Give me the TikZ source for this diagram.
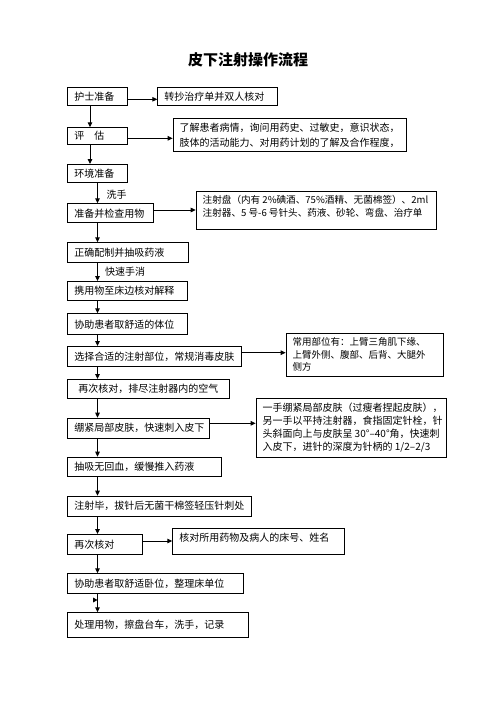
\documentclass[tikz,border=0pt]{standalone}
\usepackage{fontspec}
\setmainfont{Noto Sans CJK SC}
\usetikzlibrary{arrows.meta}
\newcommand\fbx[7]{\node[bx, minimum width={#4-#2}, minimum height={#5-#3}] (#1) at (#2,#3) {\parbox[c][\dimexpr#5pt-#3pt\relax][#6]{\dimexpr#4pt-#2pt-13pt\relax}{#7}};}
\begin{document}
\begin{tikzpicture}[x=1pt,y=-1pt,
  bx/.style={draw, line width=1pt, inner sep=0pt, anchor=north west, font=\fontsize{10pt}{13pt}\selectfont},
  arr/.style={line width=0.9pt, -{Stealth[length=5pt,width=4.5pt,inset=0pt]}},
  lbl/.style={inner sep=0pt, anchor=west, font=\fontsize{10pt}{12pt}\selectfont}]
\useasboundingbox (0,0) rectangle (496,702);
\node[font=\fontsize{15pt}{18pt}\selectfont\bfseries] (title) at (248,60) {皮下注射操作流程};
\fbx{n1}{67.3}{86.7}{127.3}{105}{c}{护士准备}
\fbx{r1}{157.3}{86.7}{277.3}{105}{c}{转抄治疗单并双人核对}
\fbx{n2}{67.3}{127.3}{127.3}{144}{c}{评\hspace{1em}估}
\fbx{r2}{172.7}{118.3}{405.7}{151}{c}{\fontsize{10pt}{15pt}\selectfont 了解患者病情，询问用药史、过敏史，意识状态，\\肢体的活动能力、对用药计划的了解及合作程度，}
\fbx{n3}{67.3}{164}{127.3}{181.7}{c}{环境准备}
\fbx{n4}{67.3}{203.3}{153.3}{222.3}{c}{准备并检查用物}
\fbx{r4}{195.7}{191}{435.7}{229.3}{t}{\vspace*{4pt}\fontsize{9.6pt}{13pt}\selectfont 注射盘（内有 2\%碘酒、75\%酒精、无菌棉签）、2ml\\注射器、5 号-6 号针头、药液、砂轮、弯盘、治疗单}
\fbx{n5}{67.3}{242.3}{188.3}{261.7}{c}{正确配制并抽吸药液}
\fbx{n6}{67.3}{281}{187.3}{300}{c}{携用物至床边核对解释}
\fbx{n7}{67.3}{313.3}{187.3}{334.3}{c}{协助患者取舒适的体位}
\fbx{n8}{67.3}{346}{240.7}{365.7}{c}{选择合适的注射部位，常规消毒皮肤}
\fbx{r8}{285.7}{333.3}{442.7}{376}{t}{\vspace*{4pt}\fontsize{9.5pt}{12.5pt}\selectfont 常用部位有：上臂三角肌下缘、\\上臂外侧、腹部、后背、大腿外\\侧方}
\fbx{n9}{67.3}{379}{229}{398.3}{c}{\hspace*{4pt}再次核对，排尽注射器内的空气}
\fbx{n10}{67.3}{417.7}{209}{437.7}{c}{绷紧局部皮肤，快速刺入皮下}
\fbx{r10}{255.7}{398.3}{445.7}{457.3}{t}{\vspace*{4pt}一手绷紧局部皮肤（过瘦者捏起皮肤），\\另一手以平持注射器，食指固定针栓，针\\头斜面向上与皮肤呈 30°–40°角，快速刺\\入皮下，进针的深度为针柄的 1/2–2/3}
\fbx{n11}{67.3}{456.7}{220.7}{476}{c}{抽吸无回血，缓慢推入药液}
\fbx{n12}{67.3}{495.7}{250.7}{515.7}{c}{注射毕，拔针后无菌干棉签轻压针刺处}
\fbx{n13}{67.3}{534}{142.3}{554.3}{c}{再次核对}
\fbx{r13}{172.3}{528.3}{344}{554.3}{t}{\vspace*{4pt}核对所用药物及病人的床号、姓名}
\fbx{n14}{67.3}{573.3}{243.3}{593.3}{c}{协助患者取舒适卧位，整理床单位}
\fbx{n15}{67.3}{612.3}{247.7}{636.7}{c}{处理用物，擦盘台车，洗手，记录}
\node[lbl] (l1) at (106.5,195) {洗手};
\node[lbl] (l2) at (105,272) {快速手消};
% vertical flow
\draw[arr] (n1.south -| 90,0) -- (n2.north -| 90,0);
\draw[arr] (n2.south -| 90,0) -- (n3.north -| 90,0);
\foreach \a/\b in {n3/n4,n4/n5,n5/n6,n6/n7,n7/n8,n8/n9,n9/n10,n10/n11,n11/n12,n12/n13,n13/n14,n14/n15}
  \draw[arr] (\a.south -| 97.5,0) -- (\b.north -| 97.5,0);
% side arrows
\draw[arr] (n1.east |- 0,99.3) -- (r1.west |- 0,99.3);
\draw[arr] (n2.east |- 0,138.3) -- (r2.west |- 0,138.3);
\draw[arr] (n4.east |- 0,210) -- (r4.west |- 0,210);
\draw[arr] (n8.east |- 0,352.7) -- (r8.west |- 0,352.7);
\draw[arr] (n10.east |- 0,423.3) -- (r10.west |- 0,423.3);
\draw[arr] (n13.east |- 0,541) -- (r13.west |- 0,541);
\fill (93,597.5) -- (97.5,600) -- (93,602.5) -- cycle;
\end{tikzpicture}
\end{document}
